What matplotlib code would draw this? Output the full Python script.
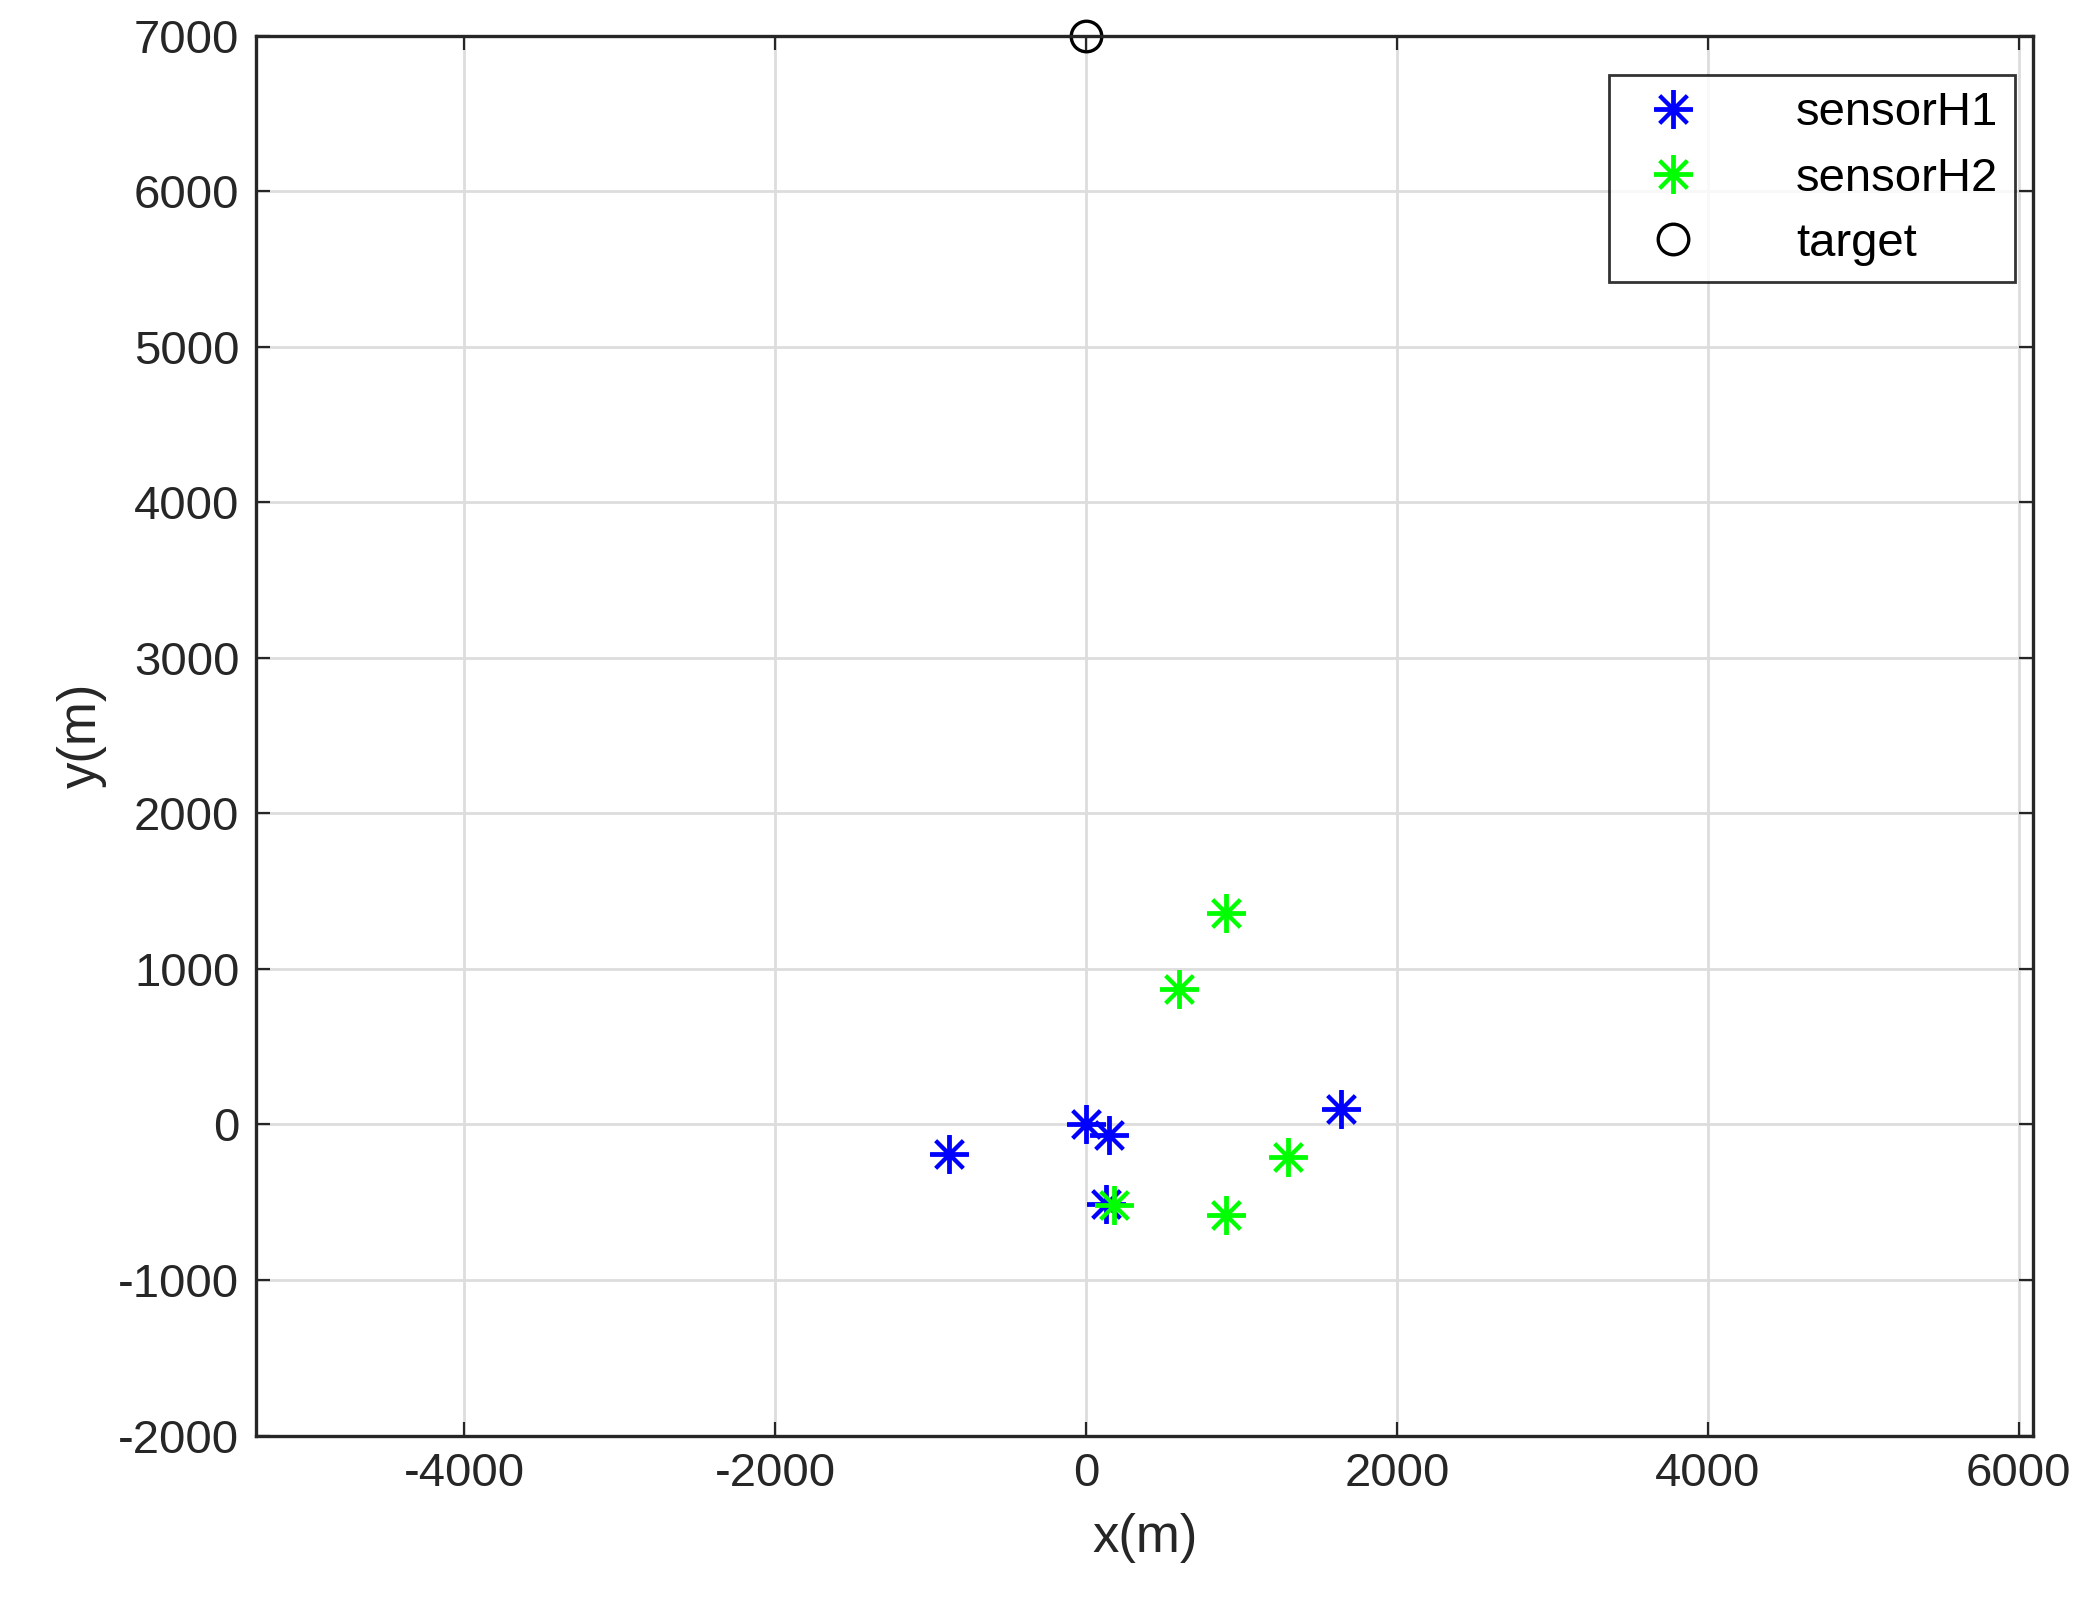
import matplotlib
matplotlib.use("Agg")
import matplotlib.pyplot as plt

h1_x = [0, 150, -880, 130, 1640]
h1_y = [0, -70, -190, -510, 100]
h2_x = [900, 600, 1300, 900, 180]
h2_y = [1360, 870, -210, -580, -520]
target_x = [0]
target_y = [7000]

plt.rcParams['font.family'] = ['Liberation Sans', 'DejaVu Sans']
plt.rcParams['axes.unicode_minus'] = False

fig = plt.figure(figsize=(10.46, 8.105), dpi=200)
ax = fig.add_axes([0.1224, 0.1144, 0.8496, 0.8636])

star = (8, 2, 0)
ax.plot(h1_x, h1_y, color='blue', marker=star, markersize=14, mew=1.4,
        linestyle='none', label='sensorH1', clip_on=False)
ax.plot(h2_x, h2_y, color='#00ff00', marker=star, markersize=14, mew=1.4,
        linestyle='none', label='sensorH2', clip_on=False)
ax.plot(target_x, target_y, 'o', mfc='none', mec='black', markersize=11, mew=1.2,
        linestyle='none', label='target', clip_on=False)

ax.set_xlim(-5340, 6095)
ax.set_ylim(-2000, 7000)
ax.set_xticks(range(-4000, 6001, 2000))
ax.set_yticks(range(-2000, 7001, 1000))
ax.grid(True, color='#dddddd', linewidth=1)
ax.set_axisbelow(True)
ax.tick_params(labelsize=17, direction='in', top=True, right=True, length=5,
               colors='#262626', pad=6)
for s in ax.spines.values():
    s.set_linewidth(1.2)
    s.set_color('#262626')
ax.set_xlabel('x(m)', fontsize=19, color='#262626', labelpad=6)
ax.set_ylabel('y(m)', fontsize=19, color='#262626', labelpad=4)

leg = ax.legend(loc='upper right', fontsize=17, fancybox=False, edgecolor='black',
                bbox_to_anchor=(0.9895, 0.972), borderpad=0.35, handletextpad=1.6,
                labelspacing=0.45, handlelength=2.0, borderaxespad=0)
leg.get_frame().set_linewidth(1.0)

fig.savefig('out.png', dpi=200)
